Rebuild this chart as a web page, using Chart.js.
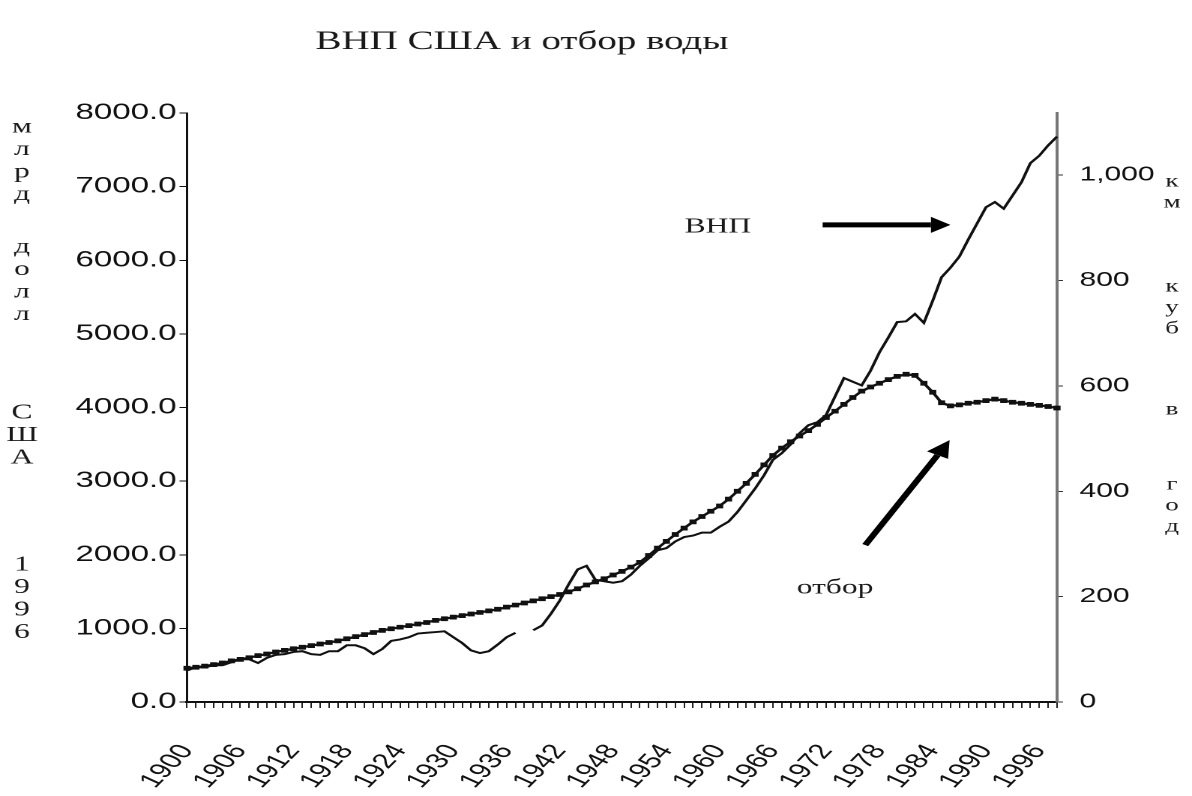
<!DOCTYPE html>
<html>
<head>
<meta charset="utf-8">
<script src="https://cdn.jsdelivr.net/npm/chart.js@4.4.1/dist/chart.umd.min.js"></script>
<style>
  html, body { margin: 0; padding: 0; background: #fff; overflow: hidden; }
  #wrap { width: 1192px; height: 796px; overflow: hidden; }
  /* the scanned original is stretched sideways, so draw narrow and widen */
  #chart { display: block; transform: scaleX(1.49937); transform-origin: 0 0; }
</style>
</head>
<body>
<div id="wrap"><canvas id="chart" width="795" height="796"></canvas></div>
<script>
// years on the category axis
const years = [
  1900, 1901, 1902, 1903, 1904, 1905, 1906, 1907, 1908, 1909,
  1910, 1911, 1912, 1913, 1914, 1915, 1916, 1917, 1918, 1919,
  1920, 1921, 1922, 1923, 1924, 1925, 1926, 1927, 1928, 1929,
  1930, 1931, 1932, 1933, 1934, 1935, 1936, 1937, 1938, 1939,
  1940, 1941, 1942, 1943, 1944, 1945, 1946, 1947, 1948, 1949,
  1950, 1951, 1952, 1953, 1954, 1955, 1956, 1957, 1958, 1959,
  1960, 1961, 1962, 1963, 1964, 1965, 1966, 1967, 1968, 1969,
  1970, 1971, 1972, 1973, 1974, 1975, 1976, 1977, 1978, 1979,
  1980, 1981, 1982, 1983, 1984, 1985, 1986, 1987, 1988, 1989,
  1990, 1991, 1992, 1993, 1994, 1995, 1996, 1997, 1998
];

// labelled years on the x axis
const yearLabels = ['1900', '1906', '1912', '1918', '1924', '1930', '1936', '1942', '1948',
                    '1954', '1960', '1966', '1972', '1978', '1984', '1990', '1996'];

// ВНП, млрд долл США 1996 (left axis)
const gnp = [
  430, 470, 470, 500, 500, 540, 580, 580, 530, 600,
  640, 650, 680, 690, 650, 640, 690, 690, 770, 770,
  730, 650, 720, 830, 850, 880, 930, 940, 950, 960,
  880, 800, 700, 665, 690, 780, 880, 940, null, 975,
  1040, 1200, 1380, 1600, 1800, 1850, 1660, 1640, 1620, 1640,
  1730, 1850, 1950, 2060, 2090, 2180, 2240, 2260, 2300, 2300,
  2380, 2450, 2580, 2740, 2900, 3080, 3290, 3380, 3500, 3650,
  3760, 3800, 3900, 4150, 4400, 4350, 4300, 4500, 4750, 4950,
  5160, 5170, 5270, 5150, 5450, 5770, 5900, 6050, 6280, 6500,
  6720, 6790, 6700, 6880, 7060, 7320, 7420, 7560, 7680
];

// отбор воды, км куб в год (right axis)
const withdrawal = [
  64, 66, 68, 71, 74, 78, 81, 84, 88, 91,
  95, 98, 101, 104, 107, 110, 113, 116, 120, 124,
  128, 132, 136, 139, 142, 145, 148, 151, 155, 158,
  161, 164, 167, 170, 173, 176, 180, 184, 188, 192,
  196, 200, 204, 209, 215, 222, 228, 234, 241, 248,
  256, 265, 278, 292, 305, 318, 330, 342, 352, 362,
  372, 385, 400, 415, 432, 450, 468, 482, 494, 505,
  515, 527, 540, 552, 565, 578, 590, 598, 605, 612,
  618, 622, 620, 605, 588, 568, 562, 564, 567, 569,
  572, 575, 572, 569, 567, 565, 563, 561, 558
];

const title = 'ВНП США и отбор воды';
const leftUnits = ['млрд', 'долл', 'США', '1996'];
const rightUnits = ['км', 'куб', 'в', 'год'];

// annotations, placed in data units
const gnpNote = { text: 'ВНП', year: 1959.8, value: 6450 };
const gnpArrow = { from: [1971.6, 6480], to: [1986.0, 6480] };
const waterNote = { text: 'отбор', year: 1973.0, value: 216 };
const waterArrow = { from: [1976.4, 298], to: [1985.9, 497] };

const SX = 1192 / 795;                 // horizontal stretch applied by css
const PLOT_LEFT = 187 / SX;
const PLOT_RIGHT = 1057 / SX;
const PLOT_TOP = 113;
const PLOT_BOTTOM = 702;
const W = 795, H = 796;

function drawArrow(ctx, x0, y0, x1, y1, width, headLen, headW) {
    const a = Math.atan2(y1 - y0, x1 - x0);
    const bx = x1 - headLen * Math.cos(a);
    const by = y1 - headLen * Math.sin(a);
    ctx.lineWidth = width;
    ctx.beginPath();
    ctx.moveTo(x0, y0);
    ctx.lineTo(bx, by);
    ctx.stroke();
    ctx.beginPath();
    ctx.moveTo(x1, y1);
    ctx.lineTo(bx + headW * Math.sin(a), by - headW * Math.cos(a));
    ctx.lineTo(bx - headW * Math.sin(a), by + headW * Math.cos(a));
    ctx.closePath();
    ctx.fill();
}

function drawColumn(ctx, words, x, starts, step) {
    words.forEach((w, i) => {
        [...w].forEach((ch, j) => ctx.fillText(ch, x, starts[i] + j * step));
    });
}

const overlayText = {
    id: 'overlayText',
    afterDraw(chart) {
        const { ctx } = chart;
        const xs = chart.scales.x, ys = chart.scales.y, ys1 = chart.scales.y1;
        const px = yr => xs.getPixelForValue(yr - years[0]);

        ctx.save();
        ctx.fillStyle = '#1a1a1a';
        ctx.strokeStyle = '#111';
        ctx.textAlign = 'center';
        ctx.textBaseline = 'middle';

        // title
        ctx.font = '26px "Liberation Serif", serif';
        ctx.fillText(title, 522 / SX, 42);

        // axis units written letter by letter
        ctx.font = '21px "Liberation Serif", serif';
        drawColumn(ctx, leftUnits, 22 / SX, [127, 247, 413, 565], 22.5);
        ctx.font = '18px "Liberation Serif", serif';
        drawColumn(ctx, rightUnits, 1172 / SX, [182, 287, 410, 485], 21);

        // ВНП label and arrow
        ctx.font = '21px "Liberation Serif", serif';
        ctx.fillText(gnpNote.text, px(gnpNote.year), ys.getPixelForValue(gnpNote.value));
        ctx.fillStyle = '#000';
        ctx.strokeStyle = '#000';
        drawArrow(ctx,
            px(gnpArrow.from[0]), ys.getPixelForValue(gnpArrow.from[1]),
            px(gnpArrow.to[0]), ys.getPixelForValue(gnpArrow.to[1]), 5, 13, 8);

        // отбор label and arrow
        ctx.fillStyle = '#1a1a1a';
        ctx.fillText(waterNote.text, px(waterNote.year), ys1.getPixelForValue(waterNote.value));
        ctx.fillStyle = '#000';
        drawArrow(ctx,
            px(waterArrow.from[0]), ys1.getPixelForValue(waterArrow.from[1]),
            px(waterArrow.to[0]), ys1.getPixelForValue(waterArrow.to[1]), 4.5, 17, 8);

        ctx.restore();
    }
};

const ctx = document.getElementById('chart');

new Chart(ctx, {
    type: 'line',
    data: {
        labels: years,
        datasets: [{
            label: 'ВНП',
            data: gnp,
            yAxisID: 'y',
            borderColor: '#111',
            borderWidth: 2,
            pointRadius: 0,
            tension: 0,
            spanGaps: false
        }, {
            label: 'отбор',
            data: withdrawal,
            yAxisID: 'y1',
            borderColor: '#111',
            backgroundColor: '#111',
            borderWidth: 2.2,
            pointRadius: 1.8,
            pointStyle: 'rect',
            tension: 0
        }]
    },
    options: {
        responsive: false,
        devicePixelRatio: 2,
        animation: false,
        layout: { padding: { top: PLOT_TOP, left: 0, right: 0, bottom: 0 } },
        plugins: {
            legend: { display: false },
            tooltip: { enabled: false },
            title: { display: false }
        },
        scales: {
            x: {
                type: 'category',
                offset: false,
                afterFit(scale) { scale.height = H - PLOT_BOTTOM; },
                border: { display: true, color: '#111', width: 2 },
                grid: { display: true, drawOnChartArea: false, drawTicks: true, tickLength: 6, color: '#222', lineWidth: 1 },
                ticks: {
                    autoSkip: false,
                    minRotation: 56,
                    maxRotation: 56,
                    padding: 32,
                    color: '#111',
                    font: { family: '"Liberation Sans", Arial, sans-serif', size: 21 },
                    callback(value, index) {
                        const s = String(years[index]);
                        return yearLabels.includes(s) ? s : '';
                    }
                }
            },
            y: {
                position: 'left',
                min: 0,
                max: 8000,
                afterFit(scale) { scale.width = PLOT_LEFT; },
                border: { display: true, color: '#111', width: 1.5 },
                grid: { display: true, drawOnChartArea: false, tickLength: 5, color: '#111' },
                ticks: {
                    stepSize: 1000,
                    padding: 2,
                    color: '#111',
                    font: { family: '"Liberation Sans", Arial, sans-serif', size: 22 },
                    callback: v => v.toFixed(1)
                }
            },
            y1: {
                position: 'right',
                min: 0,
                max: 1118,
                afterFit(scale) { scale.width = W - PLOT_RIGHT; },
                border: { display: true, color: '#777', width: 2 },
                grid: { display: true, drawOnChartArea: false, tickLength: 4, color: '#333' },
                ticks: {
                    stepSize: 200,
                    includeBounds: false,
                    padding: 11,
                    color: '#111',
                    font: { family: '"Liberation Sans", Arial, sans-serif', size: 20 },
                    callback: v => v.toLocaleString('en-US')
                }
            }
        }
    },
    plugins: [overlayText]
});
</script>
</body>
</html>
